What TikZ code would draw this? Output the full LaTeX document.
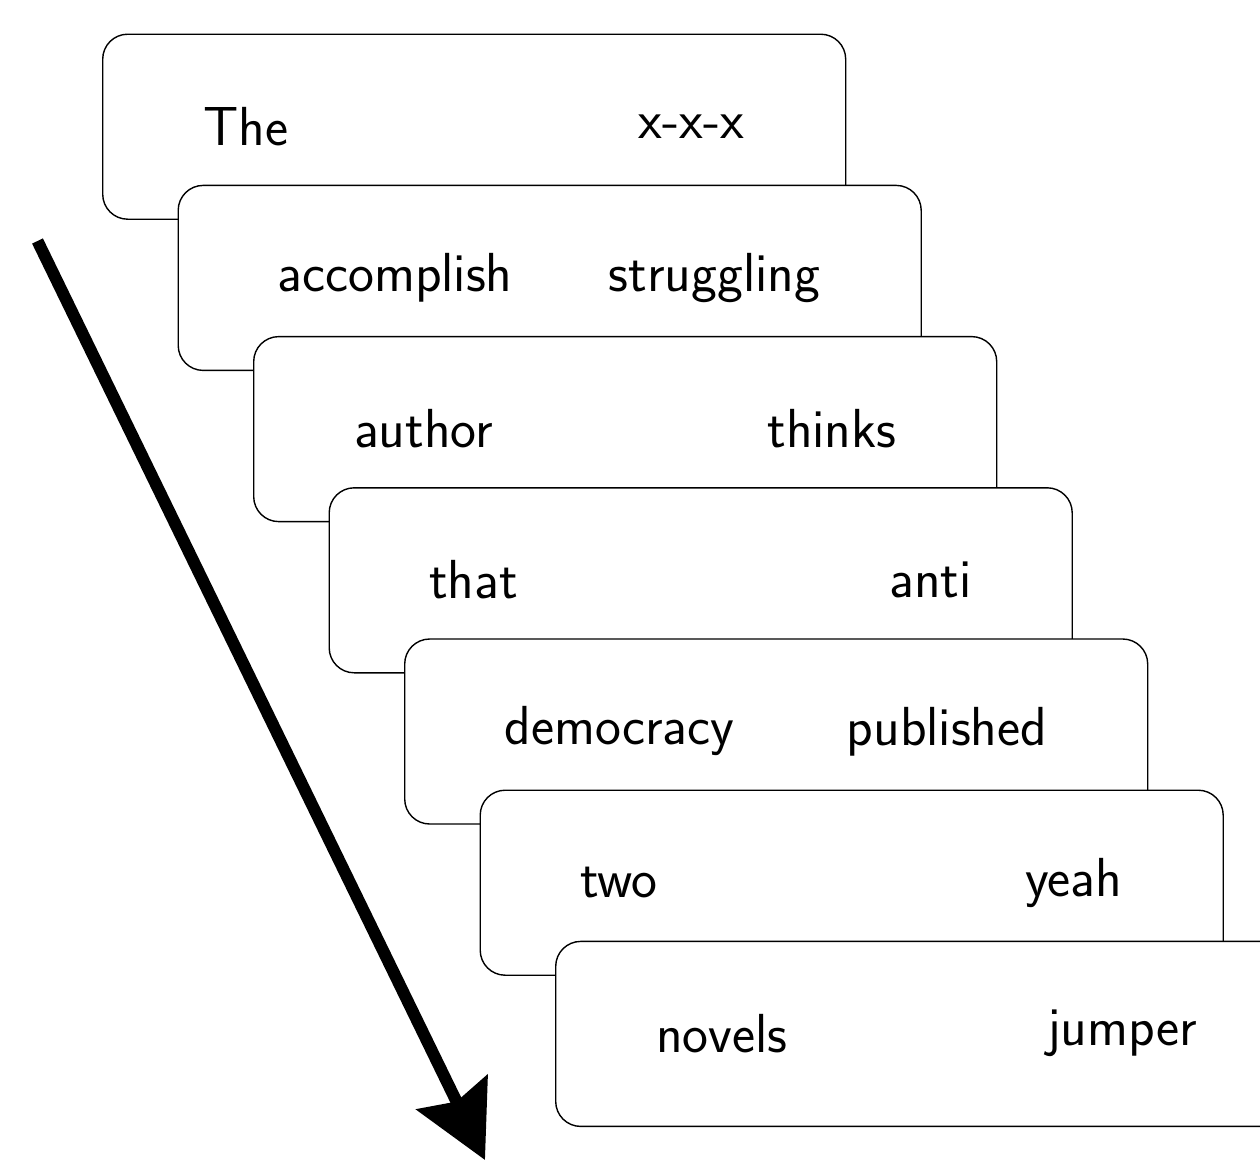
\documentclass[tikz,border=0pt]{standalone}
\usetikzlibrary{arrows.meta}
\begin{document}
\begin{tikzpicture}[x=1pt,y=-1pt,
  card/.style={draw=black,fill=white,line width=1.4pt,rounded corners=25pt,
    minimum width=743pt,minimum height=185pt,anchor=north west,inner sep=0pt},
  word/.style={font=\sffamily\fontsize{55}{60}\selectfont,inner sep=0pt,anchor=center},
  bigarrow/.style={line width=12pt,-{Stealth[length=75pt,width=78pt,inset=10pt]}}]
\useasboundingbox (0,0) rectangle (1260,1160);
\clip (0,0) rectangle (1260,1160);
\node[card] (c1) at (102,33.5) {};
\node[word] (w1a) at (246,126.5) {The};
\node[word] (w1b) at (691.5,126.5) {x-x-x};
\node[card] (c2) at (177.5,184.7) {};
\node[word] (w2a) at (395,277.7) {accomplish};
\node[word] (w2b) at (714.5,277.7) {struggling};
\node[card] (c3) at (253,335.9) {};
\node[word] (w3a) at (423.5,428.9) {author};
\node[word] (w3b) at (832,428.9) {thinks};
\node[card] (c4) at (328.5,487.1) {};
\node[word] (w4a) at (473.5,580.1) {that};
\node[word] (w4b) at (930.5,580.1) {anti};
\node[card] (c5) at (404,638.3) {};
\node[word] (w5a) at (619.5,731.3) {democracy};
\node[word] (w5b) at (947,731.3) {published};
\node[card] (c6) at (479.5,789.5) {};
\node[word] (w6a) at (619,882.5) {two};
\node[word] (w6b) at (1073.5,882.5) {yeah};
\node[card] (c7) at (555,940.7) {};
\node[word] (w7a) at (722,1033.7) {novels};
\node[word] (w7b) at (1122,1033.7) {jumper};
\coordinate (as) at (37.5,241);
\coordinate (ae) at (485,1160);
\draw[bigarrow] (as) -- (ae);
\end{tikzpicture}
\end{document}
